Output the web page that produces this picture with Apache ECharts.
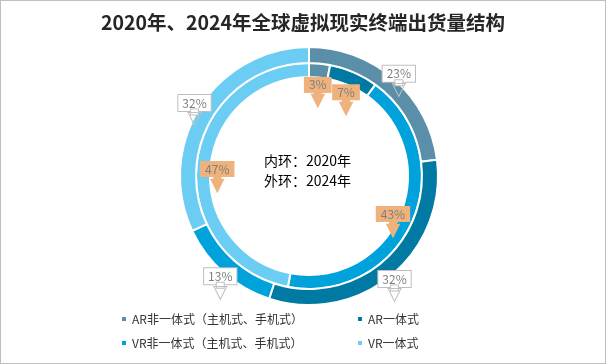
<!DOCTYPE html>
<html><head><meta charset="utf-8">
<script src="https://cdn.jsdelivr.net/npm/echarts@6/dist/echarts.min.js"></script>
<style>html,body{margin:0;padding:0;background:#fff}#c{width:606px;height:364px;box-sizing:border-box;border:1px solid #bfbfbf}</style>
</head><body><div id="c"></div>
<script>
const titleText = '2020年、2024年全球虚拟现实终端出货量结构';
const centerText = '内环：2020年\n外环：2024年';
const categories = ['AR非一体式（主机式、手机式）', 'AR一体式', 'VR非一体式（主机式、手机式）', 'VR一体式'];
const inner2020 = [3, 7, 43, 47];
const outer2024 = [23, 32, 13, 32];
const palette = ['#5B8FA9', '#0079A3', '#00A2DB', '#6BCDF4'];

const CX = 308, CY = 175;
const FONT = '"Noto Sans CJK SC", "Noto Sans", sans-serif';

function radialLayout(targetR, dy) {
  return function (p) {
    const r = p.labelRect;
    const lx = r.x + r.width / 2, ly = r.y + r.height / 2;
    const vx = lx - CX, vy = ly - CY;
    const d = Math.hypot(vx, vy) || 1;
    return { x: CX + vx / d * targetR, y: CY + vy / d * targetR + dy };
  };
}

const ORANGE = '#EFB27C';
const chart = echarts.init(document.getElementById('c'), null, { renderer: 'canvas' });
chart.setOption({
  animation: false,
  color: palette,
  title: [
    { text: titleText, left: 'center', top: 12, padding: 0,
      textStyle: { fontSize: 19.5, fontWeight: 'bold', color: '#262626', fontFamily: FONT } },
    { text: centerText, left: 263, top: 150, padding: 0,
      textStyle: { fontSize: 14, lineHeight: 20, fontWeight: 'normal', color: '#000', fontFamily: FONT } }
  ],
  legend: {
    data: categories, left: 119, top: 311, width: 480, padding: 0,
    icon: 'rect', itemWidth: 6, itemHeight: 6, itemGap: 10,
    textStyle: { fontSize: 12, lineHeight: 14, color: '#333', width: 214, fontFamily: FONT }
  },
  series: [
    {
      type: 'pie', name: '2020', center: [CX, CY], radius: [99, 113],
      startAngle: 90, clockwise: true, avoidLabelOverlap: false, silent: true,
      itemStyle: { borderColor: '#fff', borderWidth: 2 },
      label: {
        show: true, position: 'inside',
        formatter: p => '{b|' + p.value + '%}\n{s| }\n{t|▼}',
        rich: {
          b: { backgroundColor: ORANGE, color: '#7F7F7F', fontSize: 12, lineHeight: 13, padding: [2, 5], fontFamily: FONT },
          s: { backgroundColor: ORANGE, width: 8, height: 5, lineHeight: 5, fontSize: 5 },
          t: { color: ORANGE, fontSize: 19, lineHeight: 10, fontFamily: 'DejaVu Sans' }
        }
      },
      labelLine: { show: false },
      labelLayout: radialLayout(92, 8),
      data: categories.map((n, i) => ({ name: n, value: inner2020[i] }))
    },
    {
      type: 'pie', name: '2024', center: [CX, CY], radius: [113, 129],
      startAngle: 90, clockwise: true, avoidLabelOverlap: false, silent: true,
      itemStyle: { borderColor: '#fff', borderWidth: 2 },
      label: {
        show: true, position: 'inside',
        formatter: p => '{b|' + p.value + '%}\n{s| }\n{t|▽}',
        rich: {
          b: { backgroundColor: '#fff', borderColor: '#BFBFBF', borderWidth: 1, color: '#7F7F7F', fontSize: 12, lineHeight: 13, padding: [2, 4], fontFamily: FONT },
          s: { backgroundColor: '#fff', borderColor: '#BFBFBF', borderWidth: 1, width: 7, height: 5, lineHeight: 5, fontSize: 5 },
          t: { color: '#BFBFBF', fontSize: 19, lineHeight: 10, fontFamily: 'DejaVu Sans' }
        }
      },
      labelLine: { show: false },
      labelLayout: radialLayout(135, 6),
      data: categories.map((n, i) => ({ name: n, value: outer2024[i] }))
    }
  ]
});
</script></body></html>
